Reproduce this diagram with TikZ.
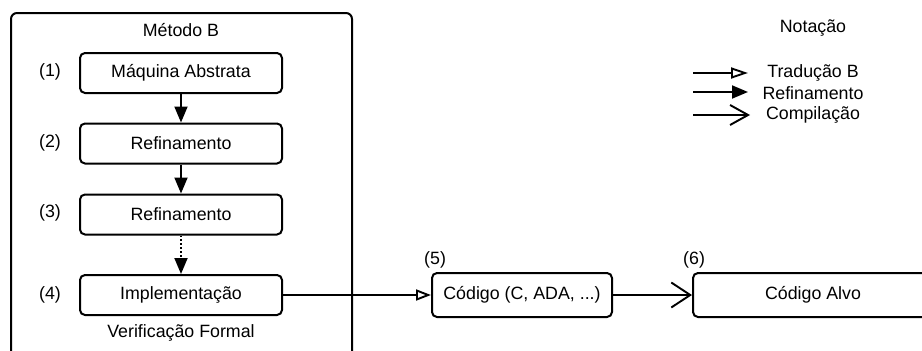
\documentclass[tikz,border=0pt]{standalone}
\usepackage{fontspec}
\setmainfont{Liberation Sans}
\usetikzlibrary{arrows.meta}
\tikzset{
  box/.style={draw, line width=2pt, rounded corners=5pt, minimum width=202pt, minimum height=40pt, inner sep=0pt, font=\fontsize{17.8pt}{20pt}\selectfont},
  txt/.style={inner sep=0pt, font=\fontsize{17.8pt}{20pt}\selectfont},
  conn/.style={line width=1.9pt},
  refi/.style={conn, -{Triangle[length=16pt,width=13pt]}},
  trad/.style={conn, -{Triangle[open,length=15pt,width=11pt,line width=1.9pt]}},
  comp/.style={conn, -{Straight Barb[length=19pt,width=25pt,line width=1.9pt]}}
}
\begin{document}
\begin{tikzpicture}[x=1pt,y=-1pt]
\useasboundingbox (0,0) rectangle (922,351);
\clip (0,0) rectangle (922,351);
\fill[white] (0,0) rectangle (922,351);
% outer frame
\draw[line width=2pt, rounded corners=6pt] (11,360) -- (11,13) -- (352,13) -- (352,360);
\node[txt] (metodo) at (181,30) {Método B};
\node[txt] (verif) at (181,333) {Verificação Formal};
% boxes
\node[box] (b1) at (181,73) {Máquina Abstrata};
\node[box] (b2) at (181,143.5) {Refinamento};
\node[box] (b3) at (181,214.5) {Refinamento};
\node[box] (b4) at (181,295) {Implementação};
\node[txt] (l1) at (50,72) {(1)};
\node[txt] (l2) at (50,143) {(2)};
\node[txt] (l3) at (50,213) {(3)};
\node[txt] (l4) at (50,295) {(4)};
\draw[refi] (b1) -- (b2);
\draw[refi] (b2) -- (b3);
\draw[refi, dotted] (b3) -- (b4);
% code boxes
\node[box, minimum width=180pt, minimum height=44pt] (b5) at (522,295) {Código (C, ADA, ...)};
\node[box, minimum width=240pt, minimum height=44pt] (b6) at (813,295) {};
\node[txt] at (813,295) {Código Alvo};
\node[txt, anchor=west] (l5) at (424,260) {(5)};
\node[txt, anchor=west] (l6) at (683,260) {(6)};
\draw[trad] (b4) -- (b5);
\draw[comp] (b5) -- (b6);
% notation
\node[txt] (nota) at (813,28) {Notação};
\coordinate (t1) at (693,73);
\coordinate (t2) at (748,73);
\coordinate (r1) at (693,92);
\coordinate (r2) at (748,92);
\coordinate (c1) at (693,115);
\coordinate (c2) at (750,115);
\draw[trad, -{Triangle[open,length=17pt,width=11pt,line width=1.9pt]}] (t1) -- (t2);
\draw[refi] (r1) -- (r2);
\draw[conn, -{Straight Barb[length=18pt,width=20pt,line width=1.9pt]}] (c1) -- (c2);
\node[txt] (nt) at (813,73) {Tradução B};
\node[txt] (nr) at (813,93) {Refinamento};
\node[txt] (nc) at (813,115) {Compilação};
\end{tikzpicture}
\end{document}
